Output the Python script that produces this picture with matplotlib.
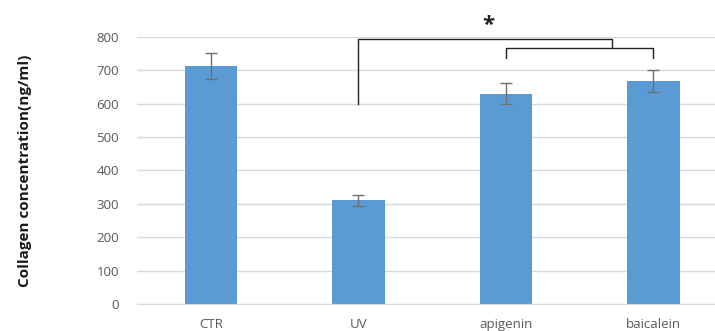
import matplotlib
matplotlib.use('Agg')
import matplotlib.pyplot as plt

plt.rcParams['font.family'] = ['Open Sans', 'DejaVu Sans']

groups = ['CTR', 'UV', 'apigenin', 'baicalein']
collagen = [713, 310, 630, 667]
collagen_err = [40, 17, 32, 33]

_BAR = '#5b9bd5'
_GRID = '#d9d9d9'
_TICK = '#595959'

fig = plt.figure(figsize=(7.15, 3.31), dpi=100)
ax = fig.add_axes([0.192, 0.0816, 0.825, 0.807])

x = range(len(groups))
ax.bar(x, collagen, width=0.355, color=_BAR, zorder=2)
ax.errorbar(x, collagen, yerr=collagen_err, fmt='none', ecolor='#6f6f6f',
            elinewidth=1.0, capsize=4, capthick=1.0, zorder=3)

ax.set_xlim(-0.5, 3.5)
ax.set_ylim(0, 800)
ax.set_yticks(range(0, 801, 100))
ax.grid(axis='y', color=_GRID, lw=1.0, zorder=0)
ax.set_axisbelow(True)
for side in ['top', 'right', 'left']:
    ax.spines[side].set_visible(False)
ax.spines['bottom'].set_color(_GRID)
ax.tick_params(axis='both', length=0, colors=_TICK, labelsize=9.5)
ax.tick_params(axis='y', pad=13)
ax.tick_params(axis='x', pad=10)
ax.set_xticks(list(x))
ax.set_xticklabels(groups)

ax.set_ylabel('Collagen concentration(ng/ml)', fontsize=11, fontweight='bold',
              color='#1a1a1a')
ax.yaxis.set_label_coords(-0.178, 0.5)

# significance brackets
k = dict(color='#222222', lw=1.0, clip_on=False, zorder=4)
ax.plot([1, 1, 2.72, 2.72], [600, 793, 793, 769], **k)
ax.plot([2, 2, 3, 3], [737, 766, 766, 737], **k)
ax.text(1.88, 835, '*', ha='center', va='center', fontsize=16,
        fontweight='bold', color='#222222')

fig.savefig('out.png', dpi=100)
